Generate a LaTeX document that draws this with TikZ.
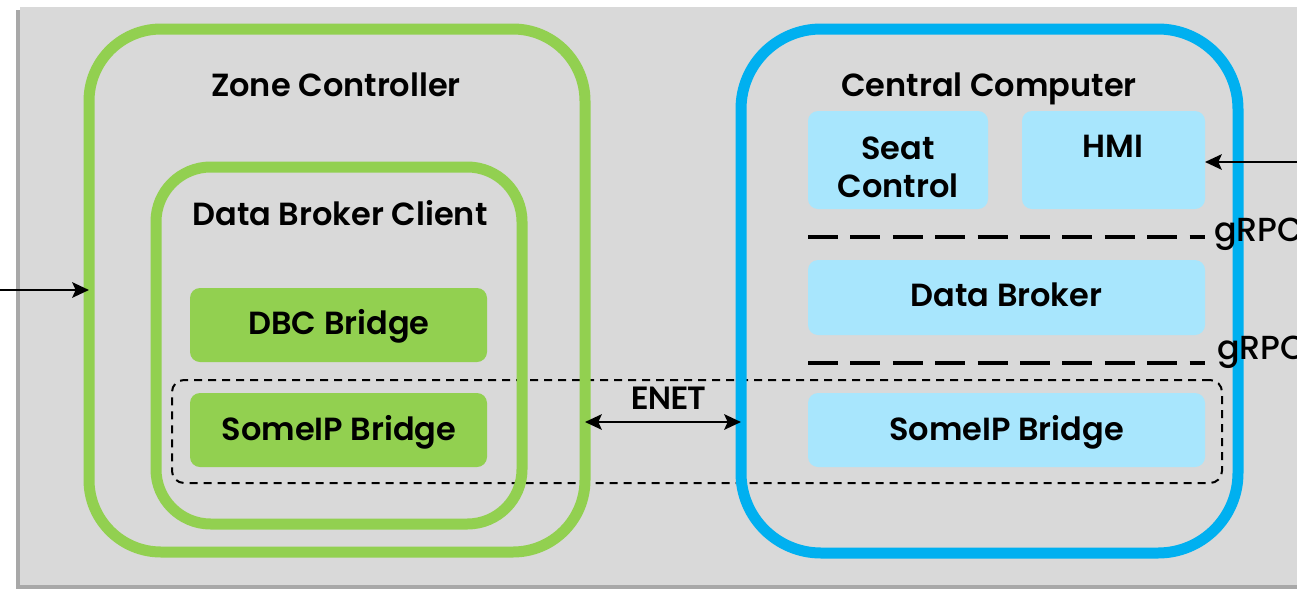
\documentclass[tikz,border=0pt]{standalone}
\usepackage{fontspec}
\newfontfamily\popsb{Poppins SemiBold}
\newfontfamily\popm{Poppins Medium}
\newfontfamily\carl{Carlito}
\usetikzlibrary{arrows.meta}
\definecolor{bggray}{HTML}{D9D9D9}
\definecolor{shgray}{HTML}{A8A8A8}
\definecolor{zgreen}{HTML}{92D050}
\definecolor{cblue}{HTML}{00B0F0}
\definecolor{lblue}{HTML}{A8E6FD}
\tikzset{
  ring/.style={draw, line width=8.25pt, outer sep=0pt, inner sep=0pt, fill=none},
  gbox/.style={fill=zgreen, rounded corners=7.5pt, outer sep=0pt, inner sep=0pt},
  bbox/.style={fill=lblue, rounded corners=7.5pt, outer sep=0pt, inner sep=0pt},
  lbl/.style={font=\popsb\fontsize{24}{28.5}\selectfont, align=center, inner sep=0pt},
  blbl/.style={lbl, anchor=base},
  grpcline/.style={line width=2.3pt, dash pattern=on 22.5pt off 9.3pt},
  grpclbl/.style={font=\popm\fontsize{25}{28}\selectfont, inner sep=0pt, anchor=base west},
  tip/.style={},
  arr/.style={line width=2.2pt, -{Stealth[length=12.5pt, width=11.5pt, inset=2.5pt]}},
  darr/.style={line width=2.2pt, {Stealth[length=12.5pt, width=11.5pt, inset=2.5pt]}-{Stealth[length=12.5pt, width=11.5pt, inset=2.5pt]}}
}
\begin{document}
\begin{tikzpicture}[x=0.75pt, y=-0.75pt]
\useasboundingbox (0,0) rectangle (1297,590);
\fill[white] (0,0) rectangle (1297,590);
\fill[shgray] (16,10) rectangle (1297,589);
\fill[bggray] (20,7) rectangle (1297,585);

% dashed grouping
\node[draw, line width=1.5pt, dash pattern=on 6pt off 4.5pt, rounded corners=9pt,
      minimum width=787.5pt, minimum height=77.25pt, inner sep=0pt, outer sep=0pt] (grp) at (697,431.5) {};

% zone controller
\node[ring, draw=zgreen, rounded corners=54pt, minimum width=372pt, minimum height=392.25pt] (zc) at (337,290.5) {};
\node[ring, draw=zgreen, rounded corners=41pt, minimum width=274.5pt, minimum height=267.75pt] (dbc) at (339,345.5) {};
\node[blbl] (zct) at (336,96.5) {Zone Controller};
\node[blbl] (dbct) at (340,225.5) {Data Broker Client};
\node[gbox, minimum width=222.75pt, minimum height=55.5pt] (dbcb) at (338.5,325) {};
\node[blbl] (dbcbt) at (339,334.5) {DBC Bridge};
\node[gbox, minimum width=222.75pt, minimum height=55.5pt] (sipg) at (338.5,430) {};
\node[blbl] (sipgt) at (339,440.5) {SomeIP Bridge};

% central computer
\node[ring, draw=cblue, rounded corners=60pt, minimum width=372.75pt, minimum height=393pt] (cc) at (989.5,291) {};
\node[blbl] (cct) at (989,96.5) {Central Computer};
\node[bbox, minimum width=135pt, minimum height=73.5pt] (seat) at (898,160) {};
\node[lbl] (seatt) at (898,167) {Seat\\Control};
\node[bbox, minimum width=137.25pt, minimum height=73.5pt] (hmi) at (1113.5,160) {};
\node[blbl] (hmit) at (1113,157) {HMI};
\node[bbox, minimum width=297.75pt, minimum height=56.25pt] (db) at (1006.5,297.5) {};
\node[blbl] (dbt) at (1006.5,306.5) {Data Broker};
\node[bbox, minimum width=297.75pt, minimum height=55.5pt] (sipb) at (1006.5,430) {};
\node[blbl] (sipbt) at (1006.5,440.5) {SomeIP Bridge};

% gRPC lines
\coordinate (g1a) at (808,237);
\coordinate (g1b) at (1205,237);
\coordinate (g2a) at (808,363);
\coordinate (g2b) at (1205,363);
\draw[grpcline] (g1a) -- (g1b);
\draw[grpcline] (g2a) -- (g2b);
\node[grpclbl] (gr1) at (1214,241) {gRPC};
\node[grpclbl] (gr2) at (1217,359) {gRPC};

% arrows
\coordinate (lin) at (0,290);
\draw[arr] (lin) -- (zc.west |- lin);
\coordinate (rin) at (1297,162);
\draw[arr] (rin) -- (hmi.east |- rin);
\coordinate (ey) at (0,422);
\draw[darr] (zc.east |- ey) -- (cc.west |- ey);
\node[font=\carl\bfseries\fontsize{26}{30}\selectfont, inner sep=0pt, anchor=base] (enet) at (668,409) {ENET};
\end{tikzpicture}
\end{document}
